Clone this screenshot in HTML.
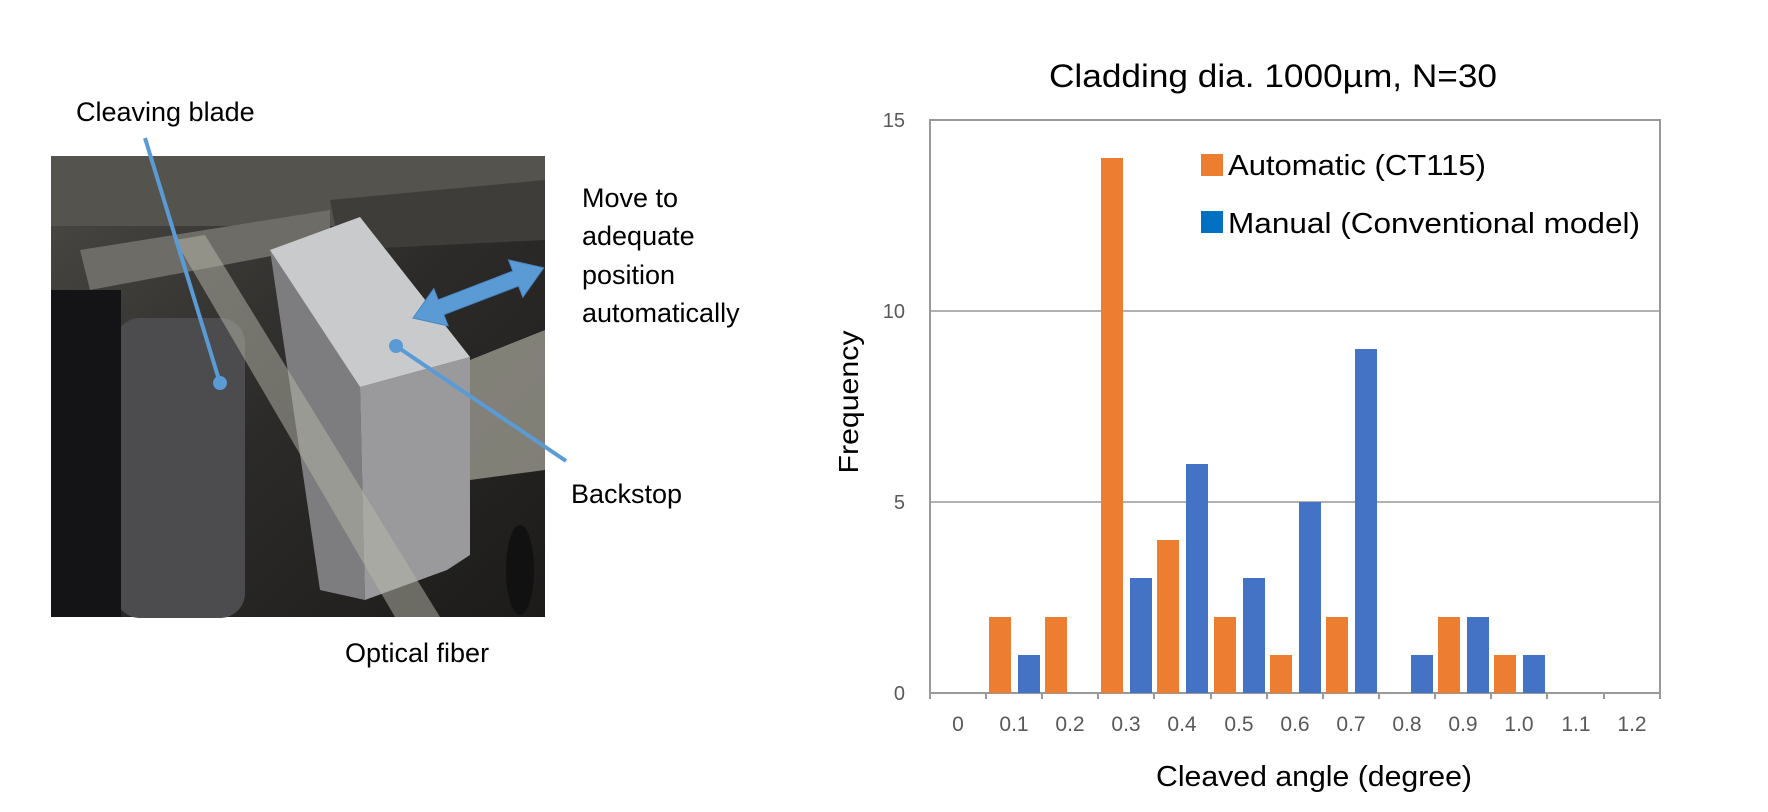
<!DOCTYPE html>
<html><head><meta charset="utf-8"><style>
html,body{margin:0;padding:0;background:#fff;}
svg{display:block;}
text{font-family:"Liberation Sans",sans-serif;}
</style></head><body>
<svg width="1768" height="812" viewBox="0 0 1768 812" xmlns="http://www.w3.org/2000/svg">
<defs>
<linearGradient id="bg" x1="0" y1="0" x2="1" y2="1">
<stop offset="0" stop-color="#4a4945"/><stop offset="0.5" stop-color="#2c2b29"/><stop offset="1" stop-color="#1c1b1a"/>
</linearGradient>
</defs>
<!-- photo -->
<rect x="51" y="156" width="494" height="461" fill="url(#bg)"/>
<rect x="51" y="156" width="494" height="70" fill="#55534e"/>
<polygon points="80,250 330,210 330,245 90,290" fill="#6e6c67"/>
<polygon points="330,200 545,180 545,240 340,250" fill="#3e3d3a"/>
<rect x="115" y="318" width="130" height="300" rx="25" fill="#4c4c4e"/>
<rect x="51" y="290" width="70" height="327" fill="#141416"/>
<polygon points="470,360 545,330 545,470 470,480" fill="#a9a89c" opacity="0.7"/>
<polygon points="270,250 360,387 365,600 320,590" fill="#7d7d7f"/>
<polygon points="360,387 470,357 470,555 447,570 365,600" fill="#9a9a9c"/>
<polygon points="270,250 360,217 470,357 360,387" fill="#c9cacc"/>
<polygon points="175,240 205,235 440,617 395,617" fill="#b8b8ac" opacity="0.5"/>
<ellipse cx="520" cy="570" rx="14" ry="45" fill="#111"/>
<!-- callouts -->
<line x1="145" y1="138" x2="220" y2="383" stroke="#5B9BD5" stroke-width="4"/>
<circle cx="220" cy="383" r="7" fill="#5B9BD5"/>
<line x1="396" y1="346" x2="566" y2="461" stroke="#5B9BD5" stroke-width="4"/>
<circle cx="396" cy="346" r="7" fill="#5B9BD5"/>
<g transform="translate(413,318) rotate(-21)">
<polygon points="0,0 30,-20 30,-8 110,-8 110,-20 140,0 110,20 110,8 30,8 30,20" fill="#5B9BD5" stroke="#4a86c0" stroke-width="1"/>
</g>
<text x="76" y="121" font-size="27" fill="#000">Cleaving blade</text>
<text x="582" y="207" font-size="27">Move to</text>
<text x="582" y="245" font-size="27">adequate</text>
<text x="582" y="284" font-size="27">position</text>
<text x="582" y="322" font-size="27">automatically</text>
<text x="571" y="503" font-size="27">Backstop</text>
<text x="345" y="662" font-size="27">Optical fiber</text>
<!-- chart -->
<text x="1273" y="87" font-size="32" text-anchor="middle" textLength="448" lengthAdjust="spacingAndGlyphs">Cladding dia. 1000µm, N=30</text>
<rect x="930" y="120" width="730" height="573" fill="none" stroke="#999" stroke-width="2"/>
<line x1="930" y1="311" x2="1660" y2="311" stroke="#999" stroke-width="1.5"/>
<line x1="930" y1="502" x2="1660" y2="502" stroke="#999" stroke-width="1.5"/>
<g font-size="20" fill="#595959" text-anchor="end">
<text x="905" y="127">15</text><text x="905" y="318">10</text><text x="905" y="509">5</text><text x="905" y="700">0</text>
</g>
<g stroke="#999" stroke-width="2">
<line x1="930" y1="693" x2="930" y2="699"/><line x1="986" y1="693" x2="986" y2="699"/><line x1="1042" y1="693" x2="1042" y2="699"/><line x1="1098" y1="693" x2="1098" y2="699"/><line x1="1154" y1="693" x2="1154" y2="699"/><line x1="1211" y1="693" x2="1211" y2="699"/><line x1="1267" y1="693" x2="1267" y2="699"/><line x1="1323" y1="693" x2="1323" y2="699"/><line x1="1379" y1="693" x2="1379" y2="699"/><line x1="1435" y1="693" x2="1435" y2="699"/><line x1="1491" y1="693" x2="1491" y2="699"/><line x1="1547" y1="693" x2="1547" y2="699"/><line x1="1604" y1="693" x2="1604" y2="699"/><line x1="1660" y1="693" x2="1660" y2="699"/>
</g>
<g font-size="21" fill="#595959" text-anchor="middle">
<text x="958" y="731">0</text><text x="1014" y="731">0.1</text><text x="1070" y="731">0.2</text><text x="1126" y="731">0.3</text><text x="1182" y="731">0.4</text><text x="1239" y="731">0.5</text><text x="1295" y="731">0.6</text><text x="1351" y="731">0.7</text><text x="1407" y="731">0.8</text><text x="1463" y="731">0.9</text><text x="1519" y="731">1.0</text><text x="1576" y="731">1.1</text><text x="1632" y="731">1.2</text>
</g>
<g fill="#ED7D31">
<rect x="989" y="617" width="22" height="76"/>
<rect x="1045" y="617" width="22" height="76"/>
<rect x="1101" y="158" width="22" height="535"/>
<rect x="1157" y="540" width="22" height="153"/>
<rect x="1214" y="617" width="22" height="76"/>
<rect x="1270" y="655" width="22" height="38"/>
<rect x="1326" y="617" width="22" height="76"/>
<rect x="1438" y="617" width="22" height="76"/>
<rect x="1494" y="655" width="22" height="38"/>
</g>
<g fill="#4472C4">
<rect x="1018" y="655" width="22" height="38"/>
<rect x="1130" y="578" width="22" height="115"/>
<rect x="1186" y="464" width="22" height="229"/>
<rect x="1243" y="578" width="22" height="115"/>
<rect x="1299" y="502" width="22" height="191"/>
<rect x="1355" y="349" width="22" height="344"/>
<rect x="1411" y="655" width="22" height="38"/>
<rect x="1467" y="617" width="22" height="76"/>
<rect x="1523" y="655" width="22" height="38"/>
</g>
<rect x="1201" y="154" width="22" height="22" fill="#ED7D31"/>
<rect x="1201" y="211" width="22" height="22" fill="#0070C0"/>
<text x="1228" y="175" font-size="29" textLength="258" lengthAdjust="spacingAndGlyphs">Automatic (CT115)</text>
<text x="1228" y="233" font-size="29" textLength="412" lengthAdjust="spacingAndGlyphs">Manual (Conventional model)</text>
<text transform="translate(858,402) rotate(-90)" font-size="28" text-anchor="middle" textLength="143" lengthAdjust="spacingAndGlyphs">Frequency</text>
<text x="1314" y="786" font-size="29" text-anchor="middle" textLength="316" lengthAdjust="spacingAndGlyphs">Cleaved angle (degree)</text>
</svg>
</body></html>
